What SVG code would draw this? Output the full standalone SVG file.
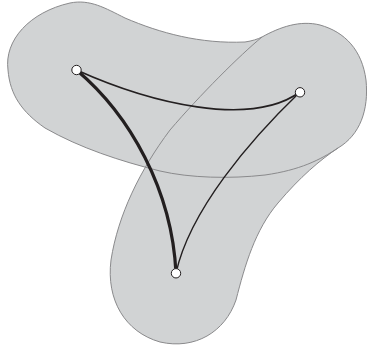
<svg xmlns="http://www.w3.org/2000/svg" width="367" height="348" viewBox="0 0 367 348">
<style>
.blob{fill:#d1d3d4;stroke:none}
.outline{fill:none;stroke:#8a8a8c;stroke-width:1}
.edge{fill:none;stroke:#231f20;stroke-linecap:round}
.node{fill:#fff;stroke:#231f20;stroke-width:1}
</style>
<g id="regions">
<path id="blobA-fill" class="blob" d="M8,70 C4,40 30,12 70,3 C90,-1 105,8 125,18 C160,33 200,44 245,42 C252,41 258,39 262,37 C280,27 300,20 320,25 C345,32 362,50 366,80 C369,110 360,135 338,148 C320,160 300,170 265,175 C230,179 190,178 160,171 C120,161 80,148 45,128 C22,112 10,95 8,70 Z"/>
<path id="blobB-fill" class="blob" d="M262,37 C240,55 200,95 170,130 C140,170 118,215 111,260 C106,300 125,332 160,342 C195,350 225,332 236,300 C245,265 255,230 278,203 C300,177 320,160 338,148 C360,135 369,110 366,80 C362,50 345,32 320,25 C300,20 280,27 262,37 Z"/>
<path class="outline" d="M8,70 C4,40 30,12 70,3 C90,-1 105,8 125,18 C160,33 200,44 245,42 C252,41 258,39 262,37 C280,27 300,20 320,25 C345,32 362,50 366,80 C369,110 360,135 338,148 C320,160 300,170 265,175 C230,179 190,178 160,171 C120,161 80,148 45,128 C22,112 10,95 8,70 Z"/>
<path class="outline" d="M262,37 C240,55 200,95 170,130 C140,170 118,215 111,260 C106,300 125,332 160,342 C195,350 225,332 236,300 C245,265 255,230 278,203 C300,177 320,160 338,148"/>
</g>
<g id="connectors">
<path class="edge" stroke-width="1.6" d="M76.5,70 C150,103 250,128 300,92"/>
<path class="edge" stroke-width="3.2" d="M76.5,70 C130,115 172,190 176,273"/>
<path class="edge" stroke-width="1.4" d="M300,92 C250,140 190,210 176,273"/>
</g>
<g id="node1"><circle class="node" cx="76.5" cy="70" r="4.7"/></g>
<g id="node2"><circle class="node" cx="300" cy="92.3" r="4.7"/></g>
<g id="node3"><circle class="node" cx="176" cy="273.3" r="4.7"/></g>
</svg>
